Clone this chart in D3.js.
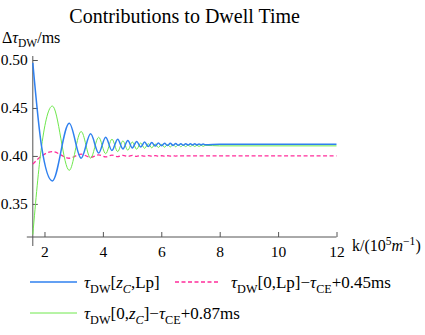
<!DOCTYPE html>
<html>
<head>
<meta charset="utf-8">
<script src="https://cdn.jsdelivr.net/npm/d3@7"></script>
<style>
  body { margin: 0; background: #fff; }
  text { font-family: "Liberation Serif", "Times New Roman", serif; fill: #000; }
</style>
</head>
<body>
<svg id="chart" width="425" height="335"></svg>
<script>
  "use strict";
  // k values (10^5 m^-1): start of range, turning points of the wiggles, flat tail
  var kHead = [1.6, 1.9];
  var kExt = [2.27, 2.848, 3.255, 3.58, 3.855, 4.096, 4.311, 4.506, 4.686, 4.853,
              5.009, 5.156, 5.296, 5.428, 5.554, 5.674, 5.79, 5.901, 6.008, 6.112,
              6.212, 6.309, 6.403, 6.494, 6.583, 6.67, 6.754, 6.836, 6.917, 6.995,
              7.072, 7.147, 7.221, 7.293, 7.364, 7.433, 7.501];
  var kTail = [8, 12];

  // tau_DW[z_C, Lp]
  var blueHead = [0.497, 0.41];
  var blueExt = [0.374, 0.434, 0.3976, 0.423, 0.403, 0.4196, 0.4056, 0.4175, 0.4073, 0.4161,
                 0.4084, 0.4151, 0.4093, 0.4144, 0.4099, 0.4139, 0.4103, 0.4135, 0.4106, 0.4133,
                 0.4108, 0.4131, 0.411, 0.4129, 0.4111, 0.4128, 0.4112, 0.4127, 0.4113, 0.4126,
                 0.4114, 0.4126, 0.4115, 0.4125, 0.4115, 0.4124, 0.4116];
  var blueTail = [0.4121, 0.4121];

  // tau_DW[0, Lp] - tau_CE + 0.45ms
  var pinkHead = [0.3915, 0.4];
  var pinkExt = [0.4045, 0.3976, 0.4018, 0.3986, 0.4011, 0.3991, 0.4008, 0.3993, 0.4006, 0.3995,
                 0.4005, 0.3996, 0.4004, 0.3997, 0.4003, 0.3997, 0.4003, 0.3998, 0.4002, 0.3998,
                 0.4002, 0.3999, 0.4001, 0.3999, 0.4001, 0.4, 0.4, 0.4, 0.4, 0.4,
                 0.4, 0.4, 0.4, 0.4, 0.4, 0.4, 0.4];
  var pinkTail = [0.4, 0.4];

  // tau_DW[0, z_C] - tau_CE + 0.87ms
  var greenHead = [0.318, 0.41];
  var greenExt = [0.452, 0.385, 0.4255, 0.3977, 0.4195, 0.4023, 0.4175, 0.4045, 0.4157, 0.406,
                  0.4145, 0.407, 0.4135, 0.4079, 0.4128, 0.4084, 0.4124, 0.4088, 0.412, 0.4091,
                  0.4118, 0.4093, 0.4116, 0.4095, 0.4115, 0.4096, 0.4114, 0.4097, 0.4113, 0.4098,
                  0.4112, 0.4098, 0.4111, 0.4099, 0.4111, 0.41, 0.411];
  var greenTail = [0.4105, 0.4105];

  var xTicks = [2, 4, 6, 8, 10, 12];
  var yTicks = [0.35, 0.40, 0.45, 0.50];

  var svg = d3.select("#chart");
  var x = d3.scaleLinear().domain([1.6, 12]).range([32.8, 336.5]);
  var y = d3.scaleLinear().domain([0.3155, 0.5]).range([237, 60]);
  var axisColor = "#555";

  // title, centred over the plot area
  svg.append("text").attr("x", (x.range()[0] + x.range()[1]) / 2).attr("y", 23)
     .attr("text-anchor", "middle")
     .style("font-size", "20px").text("Contributions to Dwell Time");

  // minor ticks first, then major ticks with labels
  var xMinor = d3.range(2, 12.01, 0.5);
  var yMinor = d3.range(0.32, 0.5001, 0.01);

  var gx = svg.append("g").attr("transform", "translate(0," + y.range()[0] + ")");
  gx.call(d3.axisBottom(x).tickValues(xMinor).tickSize(-3).tickFormat(""));
  gx.call(d3.axisBottom(x).tickValues(xTicks).tickSize(-5).tickPadding(9).tickFormat(d3.format("d")));
  var gy = svg.append("g").attr("transform", "translate(" + x.range()[0] + ",0)");
  gy.call(d3.axisLeft(y).tickValues(yMinor).tickSize(-3).tickFormat(""));
  gy.call(d3.axisLeft(y).tickValues(yTicks).tickSize(-5).tickPadding(5).tickFormat(d3.format(".2f")));

  svg.selectAll(".domain").remove();
  svg.selectAll(".tick line").attr("stroke", axisColor);
  svg.selectAll(".tick text").attr("font-family", null).style("font-size", "15.5px").attr("fill", "#000");

  // axis lines, a little past the plot range as Mathematica draws them
  svg.append("line").attr("x1", x.range()[0] - 6).attr("x2", x.range()[1])
     .attr("y1", y.range()[0]).attr("y2", y.range()[0]).attr("stroke", axisColor);
  svg.append("line").attr("x1", x.range()[0]).attr("x2", x.range()[0])
     .attr("y1", y.range()[1] - 4).attr("y2", y.range()[0] + 9).attr("stroke", axisColor);

  // curves
  var line = d3.line().x(function(d) { return x(d[0]); }).y(function(d) { return y(d[1]); })
               .curve(d3.curveMonotoneX);
  function series(vh, ve, vt) {
    return d3.zip(kHead.concat(kExt, kTail), vh.concat(ve, vt));
  }
  var curves = [
    { data: series(pinkHead, pinkExt, pinkTail), color: "#ff2d9b", width: 1.3, dash: "4,2.5" },
    { data: series(greenHead, greenExt, greenTail), color: "#6ee84c", width: 1, dash: null },
    { data: series(blueHead, blueExt, blueTail), color: "#2f80ef", width: 1.5, dash: null }
  ];
  svg.selectAll("path.curve").data(curves).enter().append("path").attr("class", "curve")
     .attr("d", function(c) { return line(c.data); })
     .attr("fill", "none")
     .attr("stroke", function(c) { return c.color; })
     .attr("stroke-width", function(c) { return c.width; })
     .attr("stroke-dasharray", function(c) { return c.dash; });

  // rich text helper: parts are [string, kind] where kind is "", "i", "sub", "subi", "sup", "supi"
  function rich(xp, yp, size, parts) {
    var t = svg.append("text").attr("x", xp).attr("y", yp).style("font-size", size + "px");
    var shift = 0;
    parts.forEach(function(p) {
      var kind = p[1] || "";
      var want = kind.indexOf("sub") === 0 ? size * 0.28 : kind.indexOf("sup") === 0 ? -size * 0.38 : 0;
      var s = t.append("tspan").text(p[0]).attr("dy", want - shift);
      shift = want;
      if (kind === "i" || kind === "subi" || kind === "supi") s.style("font-style", "italic");
      if (kind !== "" && kind !== "i") s.style("font-size", (size * 0.72) + "px");
    });
    return t;
  }

  // axis labels
  rich(2, 43, 16, [["Δ"], ["τ", "i"], ["DW", "sub"], ["/ms"]]);
  rich(352, 251, 16, [["k/(10"], ["5", "sup"], ["m", "i"], ["−1", "sup"], [")"]]);

  // legend
  var legend = [
    { x: 30, y: 282, color: "#2f80ef", width: 1.5, dash: null,
      parts: [["τ", "i"], ["DW", "sub"], ["["], ["z", "i"], ["C", "subi"], [",Lp]"]] },
    { x: 175, y: 282, color: "#ff2d9b", width: 1.3, dash: "4,2.5",
      parts: [["τ", "i"], ["DW", "sub"], ["[0,Lp]−"], ["τ", "i"], ["CE", "sub"], ["+0.45ms"]] },
    { x: 30, y: 313, color: "#6ee84c", width: 1, dash: null,
      parts: [["τ", "i"], ["DW", "sub"], ["[0,"], ["z", "i"], ["C", "subi"], ["]−"], ["τ", "i"], ["CE", "sub"], ["+0.87ms"]] }
  ];
  legend.forEach(function(l) {
    svg.append("line").attr("x1", l.x).attr("x2", l.x + (l.x > 100 ? 43 : 47))
       .attr("y1", l.y).attr("y2", l.y)
       .attr("stroke", l.color).attr("stroke-width", l.width).attr("stroke-dasharray", l.dash);
    rich(l.x + (l.x > 100 ? 56 : 54), l.y + 6, 17, l.parts);
  });
</script>
</body>
</html>
